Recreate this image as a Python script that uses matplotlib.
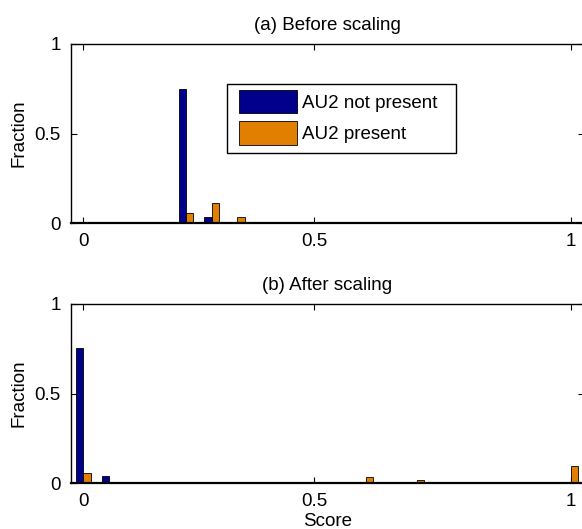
import numpy as np
import matplotlib
matplotlib.use("Agg")
import matplotlib.pyplot as plt
from matplotlib.patches import Rectangle

# ---- data (20 histogram bins, tick labels placed at bins 1, 10, 20) ----
bins = list(range(1, 21))
tick_pos = [1, 10, 20]
tick_labels = ["0", "0.5", "1"]
series_names = ["AU2 not present", "AU2 present"]

before_not_present = [0, 0, 0, 0, 0.751, 0.033, 0, 0, 0, 0, 0, 0, 0, 0, 0, 0, 0, 0, 0, 0]
before_present     = [0, 0, 0, 0, 0.056, 0.112, 0.033, 0, 0, 0, 0, 0, 0, 0, 0, 0, 0, 0, 0, 0]
after_not_present  = [0.755, 0.041, 0, 0, 0, 0, 0, 0, 0, 0, 0, 0, 0, 0, 0, 0, 0, 0, 0, 0]
after_present      = [0.058, 0, 0, 0, 0, 0, 0, 0, 0, 0, 0, 0.037, 0, 0.017, 0, 0, 0, 0, 0, 0.095]

titles = ["(a) Before scaling", "(b) After scaling"]
colors = ["#00008C", "#E07F00"]

plt.rcParams['font.family'] = ['Liberation Sans', 'DejaVu Sans']
FS = 13.5
FSPX = FS * 100 / 72.0

fig = plt.figure(figsize=(5.82, 5.29), dpi=100)
W, H = 582.0, 529.0
left = 70.5 / W
width = 513.4 / W
ax1 = fig.add_axes([left, (H - 223.3) / H, width, 179.3 / H])
ax2 = fig.add_axes([left, (H - 483.3) / H, width, 179.3 / H])

x = np.array(bins, dtype=float)
bw = 0.285
for ax, a, b, t in [(ax1, before_not_present, before_present, titles[0]),
                    (ax2, after_not_present, after_present, titles[1])]:
    ax.bar(x - bw / 2, a, width=bw, color=colors[0], edgecolor='black',
           linewidth=0.6, label=series_names[0], zorder=2)
    ax.bar(x + bw / 2, b, width=bw, color=colors[1], edgecolor='black',
           linewidth=0.6, label=series_names[1], zorder=2)
    ax.set_xlim(0.5, 20.5)
    ax.set_ylim(0, 1)
    ax.set_xticks(tick_pos)
    ax.set_xticklabels(tick_labels)
    ax.set_yticks([0, 0.5, 1])
    ax.set_yticklabels(["0", "0.5", "1"])
    ax.tick_params(direction='in', length=4, width=0.8, top=True, right=True,
                   labelsize=FS, pad=7)
    for s in ax.spines.values():
        s.set_linewidth(1.0)
    ax.spines['bottom'].set_linewidth(1.6)
    ax.set_ylabel("Fraction", fontsize=FS, labelpad=5)
    ax.set_title(t, fontsize=FS, pad=10)

ax2.set_xlabel("Score", fontsize=FS, labelpad=2)

# legend box (frame drawn separately to match MATLAB padding)
box_l, box_r, box_b, box_t = 0.304, 0.750, 0.394, 0.777
ax1.add_patch(Rectangle((box_l, box_b), box_r - box_l, box_t - box_b,
                        transform=ax1.transAxes, facecolor='white',
                        edgecolor='black', linewidth=1.0, zorder=4))
pad_left_px = 12.3
pad_top_px = 6.0
leg = ax1.legend(loc='upper left',
                 bbox_to_anchor=(box_l + pad_left_px / 513.4, box_t - pad_top_px / 179.3),
                 fontsize=FS, frameon=False,
                 handlelength=58 / FSPX, handleheight=29 / FSPX,
                 handletextpad=5 / FSPX, borderpad=0,
                 labelspacing=8 / FSPX, borderaxespad=0)
leg.set_zorder(5)

fig.savefig("out.png", dpi=100)
